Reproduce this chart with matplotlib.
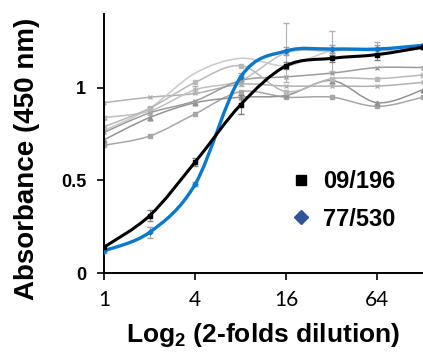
import matplotlib
matplotlib.use('Agg')
import matplotlib.pyplot as plt
import numpy as np
from matplotlib.path import Path
from matplotlib.patches import PathPatch
from matplotlib.lines import Line2D

plt.rcParams['font.family'] = ['Liberation Sans', 'DejaVu Sans']
plt.rcParams['mathtext.default'] = 'regular'

# data
dilution = [1, 2, 4, 8, 16, 32, 64, 128]

ref_0919 = [0.14, 0.31, 0.60, 0.91, 1.12, 1.16, 1.18, 1.22]
ref_0919_err = [0.01, 0.03, 0.02, 0.05, 0.02, 0.02, 0.03, 0.01]
ref_7753 = [0.12, 0.22, 0.48, 1.06, 1.20, 1.21, 1.21, 1.23]
ref_7753_err = [0.01, 0.03, 0.01, 0.02, 0.02, 0.02, 0.02, 0.01]

grey_a = [0.92, 0.95, 0.97, 1.02, 1.01, 1.01, 1.01, 1.03]
grey_b = [0.77, 0.89, 1.08, 1.16, 1.12, 1.20, 1.20, 1.21]
grey_c = [0.84, 0.875, 0.99, 1.04, 1.19, 1.20, 1.21, 1.22]
grey_c_err = [0.01, 0.02, 0.02, 0.03, 0.16, 0.11, 0.04, 0.01]
grey_d = [0.69, 0.74, 0.86, 0.98, 0.95, 0.95, 0.90, 0.95]
grey_e = [0.72, 0.84, 0.92, 0.95, 0.96, 1.04, 0.92, 0.99]
grey_f = [0.76, 0.865, 0.93, 1.04, 1.06, 1.08, 1.11, 1.11]
grey_g = [0.79, 0.89, 1.03, 1.12, 0.98, 1.05, 1.05, 1.07]

legend_labels = ['09/196', '77/530']


def smooth_path(xs, ys):
    # Excel-like smoothed line: Catmull-Rom segments drawn as cubic Beziers (x in log2 space)
    lx = np.log2(xs)
    y = np.asarray(ys, dtype=float)
    n = len(lx)
    verts = [(xs[0], y[0])]
    codes = [Path.MOVETO]
    for i in range(n - 1):
        i0 = max(i - 1, 0)
        i3 = min(i + 2, n - 1)
        c1x = lx[i] + (lx[i + 1] - lx[i0]) / 6
        c1y = y[i] + (y[i + 1] - y[i0]) / 6
        c2x = lx[i + 1] - (lx[i3] - lx[i]) / 6
        c2y = y[i + 1] - (y[i3] - y[i]) / 6
        verts += [(2 ** c1x, c1y), (2 ** c2x, c2y), (xs[i + 1], y[i + 1])]
        codes += [Path.CURVE4] * 3
    return Path(verts, codes)


fig = plt.figure(figsize=(4.23, 3.56), dpi=100)
ax = fig.add_axes([0.246, 0.233, 0.754, 0.728])
ax.set_xscale('log', base=2)

greys = [
    (grey_a, '#b0b0b0', 'x'),
    (grey_b, '#cacaca', None),
    (grey_c, '#c0c0c0', 's'),
    (grey_d, '#a6a6a6', 's'),
    (grey_e, '#939393', '^'),
    (grey_f, '#9c9c9c', 'x'),
    (grey_g, '#b8b8b8', 's'),
]
for vals, col, mk in greys:
    ax.add_patch(PathPatch(smooth_path(dilution, vals), fill=False, edgecolor=col, lw=1.1, zorder=2))
    if mk:
        ax.plot(dilution, vals, ls='none', marker=mk, ms=3.5, color=col, mew=1, zorder=2)

ax.errorbar(dilution, grey_c, yerr=grey_c_err, fmt='none', ecolor='#b0b0b0', elinewidth=0.8, capsize=2, zorder=2)

ax.add_patch(PathPatch(smooth_path(dilution, ref_7753), fill=False, edgecolor='#0a78cc', lw=2.4, zorder=4))
ax.errorbar(dilution, ref_7753, yerr=ref_7753_err, fmt='none', ecolor='#a0a0a0', elinewidth=0.8, capsize=2, zorder=3)
ax.plot(dilution, ref_7753, ls='none', marker='D', ms=2.5, color='#0a78cc', zorder=4)

ax.add_patch(PathPatch(smooth_path(dilution, ref_0919), fill=False, edgecolor='black', lw=2.2, zorder=5))
ax.errorbar(dilution, ref_0919, yerr=ref_0919_err, fmt='none', ecolor='#808080', elinewidth=0.8, capsize=2, zorder=3)
ax.plot(dilution, ref_0919, ls='none', marker='s', ms=3, color='black', zorder=5)

ax.set_xlim(1, 128)
ax.set_ylim(0, 1.4)
ax.set_xticks([1, 4, 16, 64])
ax.set_xticklabels(['1', '4', '16', '64'], fontsize=15, family=['Lato', 'DejaVu Sans'])
ax.minorticks_off()
ax.set_yticks([0, 0.5, 1])
ax.set_yticklabels(['0', '0.5', '1'], fontsize=13, fontweight='bold')
ax.tick_params(direction='out', length=5, width=1.2, color='black')
ax.tick_params(axis='x', pad=7)
ax.tick_params(axis='y', pad=8)

for s in ['top', 'right']:
    ax.spines[s].set_visible(False)
for s in ['left', 'bottom']:
    ax.spines[s].set_linewidth(1.4)

ax.set_ylabel('Absorbance (450 nm)', fontsize=20, fontweight='bold')
ax.yaxis.set_label_coords(-0.20, 0.44)
ax.set_xlabel('Log$_2$ (2-folds dilution)', fontsize=19, fontweight='bold', labelpad=8)

handles = [
    Line2D([], [], ls='none', marker='s', ms=7, color='black'),
    Line2D([], [], ls='none', marker='D', ms=7, color='#2f5597'),
]
ax.legend(handles, legend_labels, loc='center left', bbox_to_anchor=(0.53, 0.28), frameon=False,
          prop={'size': 17, 'weight': 'bold'}, handlelength=0.6, handletextpad=0.6, labelspacing=0.6)

plt.savefig('out.png', dpi=100)
plt.close(fig)
